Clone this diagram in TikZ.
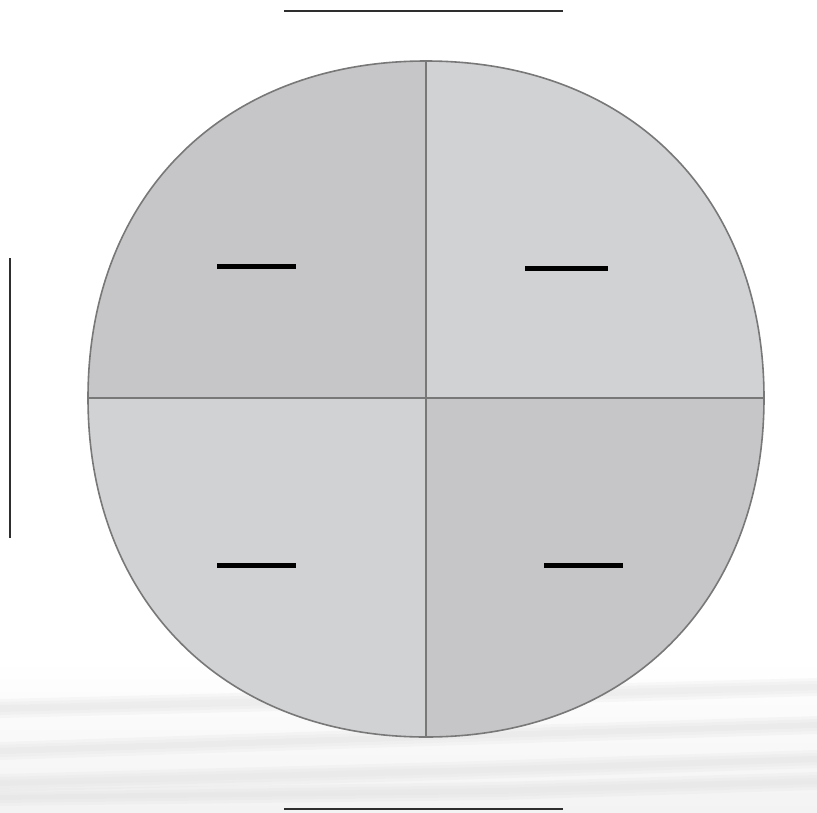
\documentclass[tikz,border=0pt]{standalone}
\usetikzlibrary{positioning}

\definecolor{darkq}{HTML}{C6C6C8}
\definecolor{lightq}{HTML}{D1D2D4}
\definecolor{rimgray}{HTML}{787878}
\definecolor{streak}{HTML}{DDDDDD}
\definecolor{haze}{HTML}{F3F3F3}
\definecolor{blankline}{HTML}{2E2E2E}

\begin{document}
\begin{tikzpicture}[x=1pt, y=-1pt,
  rim/.style={draw=rimgray, line width=1.6pt},
  divider/.style={draw=rimgray, line width=2.8pt},
  blank/.style={inner sep=0pt, outer sep=0pt},
  band/.style={fill=streak, opacity=.18}]

\useasboundingbox (0,0) rectangle (817,812);

% faint streaks in the background
\shade[top color=white, bottom color=haze] (0,660) rectangle (817,812);
\foreach \w in {0,3,6} {
  \fill[band] (0,705-\w) -- (400,695-\w) -- (817,684-\w) -- (817,690+\w) -- (400,702+\w) -- (0,712+\w) -- cycle;
  \fill[band] (0,748-\w) -- (300,738-\w) -- (817,722-\w) -- (817,728+\w) -- (300,744+\w) -- (0,754+\w) -- cycle;
  \fill[band] (0,780-\w) -- (450,768-\w) -- (817,756-\w) -- (817,762+\w) -- (450,774+\w) -- (0,786+\w) -- cycle;
  \fill[band] (0,795-\w) -- (500,788-\w) -- (817,778-\w) -- (817,784+\w) -- (500,794+\w) -- (0,800+\w) -- cycle;
}

\coordinate (c) at (426,398);
\coordinate (n) at (426,61);
\coordinate (s) at (426,737);
\coordinate (w) at (88,398);
\coordinate (e) at (764,398);

% quadrants
\fill[darkq]  (c) -- (n) .. controls (223,61) and (88,196) .. (w) -- cycle;
\fill[lightq] (c) -- (n) .. controls (629,61) and (764,196) .. (e) -- cycle;
\fill[lightq] (c) -- (s) .. controls (223,737) and (88,600) .. (w) -- cycle;
\fill[darkq]  (c) -- (s) .. controls (629,737) and (764,600) .. (e) -- cycle;

\draw[rim] (n) .. controls (629,61) and (764,196) .. (e)
  .. controls (764,600) and (629,737) .. (s)
  .. controls (223,737) and (88,600) .. (w)
  .. controls (88,196) and (223,61) .. (n) -- cycle;
\draw[divider] (n) -- (s);
\draw[divider] (w) -- (e);

% blanks
\node[blank] (q1) at (256.5,266) {\rule{79pt}{5pt}};
\node[blank] (q2) at (566.5,268) {\rule{83pt}{5pt}};
\node[blank] (q3) at (256.5,565) {\rule{79pt}{5pt}};
\node[blank] (q4) at (583.5,565) {\rule{79pt}{5pt}};

\node[blank, text=blankline] (title) at (423.5,11) {\rule{279pt}{2pt}};
\node[blank, text=blankline] (caption) at (423.5,809) {\rule{279pt}{2pt}};
\node[blank, text=blankline, rotate=90] (side) at (10,398) {\rule{280pt}{2pt}};
\end{tikzpicture}
\end{document}
